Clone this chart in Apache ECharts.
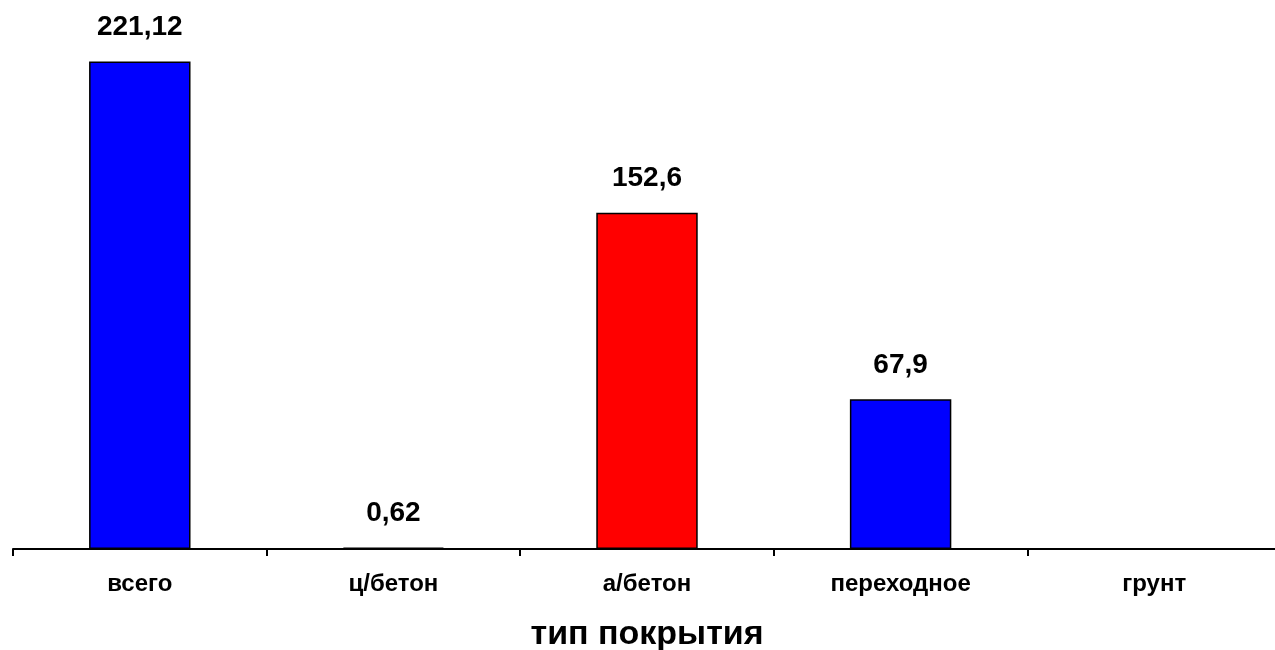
<!DOCTYPE html>
<html><head><meta charset="utf-8">
<script src="https://cdn.jsdelivr.net/npm/echarts@6/dist/echarts.min.js"></script>
<style>html,body{margin:0;padding:0;background:#fff}#c{width:1275px;height:650px}</style>
</head><body><div id="c"></div>
<script>
const categories = ["всего", "ц/бетон", "а/бетон", "переходное", "грунт"];
const values = [221.12, 0.62, 152.6, 67.9, null];
const barColors = ["#0000FF", "#0000FF", "#FF0000", "#0000FF", "#0000FF"];
const axisTitle = "тип покрытия";

const chart = echarts.init(document.getElementById('c'), null, {renderer: 'canvas'});
chart.setOption({
  animation: false,
  grid: {left: 13, right: -6, top: 20, bottom: 101, containLabel: false, outerBoundsMode: 'none'},
  xAxis: {
    type: 'category', data: categories,
    axisLine: {lineStyle: {color: '#000', width: 2}},
    axisTick: {show: true, length: 7, lineStyle: {color: '#000', width: 2}},
    axisLabel: {color: '#000', fontFamily: 'Liberation Sans, Arial', fontWeight: 'bold', fontSize: 24, margin: 23},
    name: axisTitle, nameLocation: 'middle', nameGap: 69,
    nameTextStyle: {color: '#000', fontFamily: 'Liberation Sans, Arial', fontWeight: 'bold', fontSize: 34}
  },
  yAxis: {type: 'value', min: 0, max: 240, show: false, splitLine: {show: false}},
  series: [{
    type: 'bar', barWidth: '40%',
    data: values.map((v, i) => ({value: v, itemStyle: {color: barColors[i]}})),
    itemStyle: {borderColor: '#000', borderWidth: 1.5},
    label: {show: true, position: 'top', distance: 20, color: '#000',
      fontFamily: 'Liberation Sans, Arial', fontWeight: 'bold', fontSize: 28,
      formatter: p => String(p.value).replace('.', ',')}
  }]
});
</script></body></html>
